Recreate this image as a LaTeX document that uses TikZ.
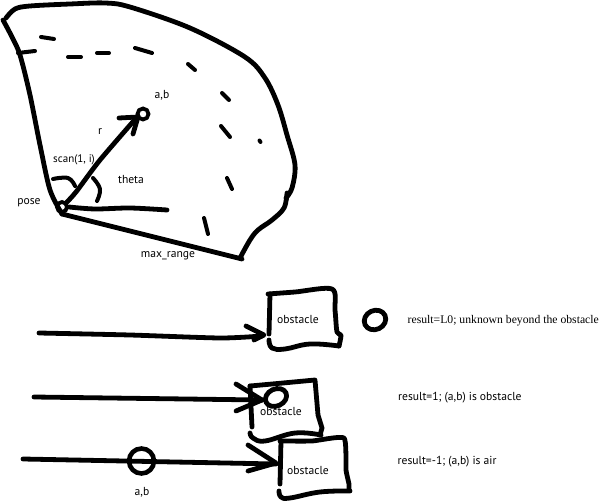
\documentclass[tikz,border=0pt]{standalone}
\usepackage{fontspec}
\setmainfont{PT Sans}
\newfontfamily\serifres{Liberation Serif}
\tikzset{
  ink/.style={line width=4.8pt,line cap=round,line join=round,black},
  thin ink/.style={line width=4pt,line cap=round,line join=round,black},
  lbl/.style={font=\fontsize{11.6}{13}\selectfont,inner sep=0pt,text=black},
}
\begin{document}
\begin{tikzpicture}[x=1pt,y=-1pt]
\useasboundingbox (0,0) rectangle (599,502);
% sector outline
\draw[ink] plot[smooth,tension=0.5] coordinates {(3,20) (12,37) (20,55) (30,95) (40,145) (50,190) (62,214)};
\draw[ink] plot[smooth,tension=0.55] coordinates {(6,18) (15,9) (30,6) (70,4) (105,3) (130,7) (190,28) (245,57) (265,78) (278,105) (287,135) (295,165) (292,188) (286,198)};
\draw[ink] plot[smooth,tension=0.6] coordinates {(287,193) (284,208) (272,220) (258,230) (250,240) (240,258)};
\draw[ink] (62,214) -- (242,259);
% max-range arc, dashed by hand
\draw[thin ink] (41,37) -- (54,39);
\draw[thin ink] (18,53) -- (35,51);
\draw[thin ink] (68,57) -- (81,57);
\draw[thin ink] (97,53) -- (109,53);
\draw[thin ink] (135,48) -- (152,53);
\draw[thin ink] (188,64) -- (195,70);
\draw[thin ink] (222,93) -- (229,100);
\draw[thin ink] (221,126) -- (230,137);
\draw[thin ink] (259.5,140.5) -- (260.5,142);
\draw[thin ink] (227,178) -- (232,189);
\draw[thin ink] (204,218) -- (208,234);
% pose, ray and target
\coordinate (poseC) at (62,207);
\node[circle,draw,line width=3.8pt,minimum size=10pt,inner sep=0pt] (pose) at (poseC) {};
\node[circle,draw,line width=3.8pt,minimum size=11pt,inner sep=0pt] (target) at (143,114) {};
\draw[ink] plot[smooth,tension=0.4] coordinates {(pose.north east) (76,192) (100,160) (138,116)};
\draw[ink] (119,118) -- (138,117) -- (133,134);
% reference ray and angle marks
\draw[ink] plot[smooth,tension=0.5] coordinates {(pose.east) (95,209) (130,208) (167,210)};
\draw[thin ink] plot[smooth,tension=0.7] coordinates {(93,178) (100,189) (97,201)};
\draw[thin ink] plot[smooth,tension=0.7] coordinates {(53,179) (68,178) (75,186)};
% labels of the sector
\node[lbl] (ab1) at (162,95.5) {a,b};
\node[lbl] (rlab) at (100,131.5) {r};
\node[lbl,font=\fontsize{11}{13}\selectfont] (scan) at (74,159.5) {scan(1, i)};
\node[lbl] (theta) at (131,179.5) {theta};
\node[lbl] (poselab) at (29,202.5) {pose};
\node[lbl] (maxr) at (168,255.5) {max\_range};
% first ray
\coordinate (s1) at (39,333);
\coordinate (e1) at (262,336);
\draw[ink] plot[smooth,tension=0.4] coordinates {(s1) (130,335) (220,338) (e1)};
\draw[ink] (246,326) -- (264,335) -- (254,340);
\draw[ink] plot[smooth,tension=0.5] coordinates {(268,294) (295,292) (332,289) (335,310) (337,332) (341,335) (339,346)};
\draw[ink] (270,294) -- (269,334);
\draw[ink] plot[smooth,tension=0.7] coordinates {(339,346) (310,344) (285,349) (272,348) (269,340)};
\node[lbl] (ob1) at (298,319.5) {obstacle};
\draw[ink] (375,320) ellipse [x radius=11,y radius=9.5,rotate=25];
\node[font=\serifres\fontsize{11.7}{13}\selectfont,anchor=west,inner sep=0pt] (res1) at (407.5,320.5) {result=L0; unknown beyond the obstacle};
% second ray
\coordinate (s2) at (34,397);
\coordinate (e2) at (262,400);
\draw[ink] (s2) -- (e2);
\draw[ink] (236,384) -- (262,400) -- (236,411);
\draw[ink] (250,386) -- (283,383) -- (315,380) -- (318,415) -- (322,428) -- (320,435);
\draw[ink] (250,386) -- (252,427);
\draw[ink] plot[smooth,tension=0.7] coordinates {(321,435) (295,433) (265,441) (253,438) (250,433)};
\node[lbl] (ob2) at (281,411.5) {obstacle};
\draw[ink,fill=white] (276,397.5) ellipse [x radius=11,y radius=8.5,rotate=25];
\node[lbl,anchor=west] (res2) at (398,397.5) {result=1; (a,b) is obstacle};
% third ray
\coordinate (s3) at (23,459);
\coordinate (e3) at (276,464);
\draw[ink] (s3) -- (e3);
\draw[ink] (248,445) -- (276,463) -- (248,471);
\draw[ink] plot[smooth,tension=0.3] coordinates {(280,441) (312,441) (344,438) (346,470) (349,484) (349,490)};
\draw[ink] (281,441) -- (280,484);
\draw[ink] plot[smooth,tension=0.7] coordinates {(350,491) (320,492) (290,498) (281,497) (279,491)};
\node[lbl] (ob3) at (308,470.5) {obstacle};
\node[circle,draw,line width=4.6pt,minimum size=25pt,inner sep=0pt] (ab3c) at (141.5,461) {};
\node[lbl] (ab3) at (142,492.5) {a,b};
\node[lbl,anchor=west] (res3) at (397.5,461.5) {result=-1; (a,b) is air};
\end{tikzpicture}
\end{document}
